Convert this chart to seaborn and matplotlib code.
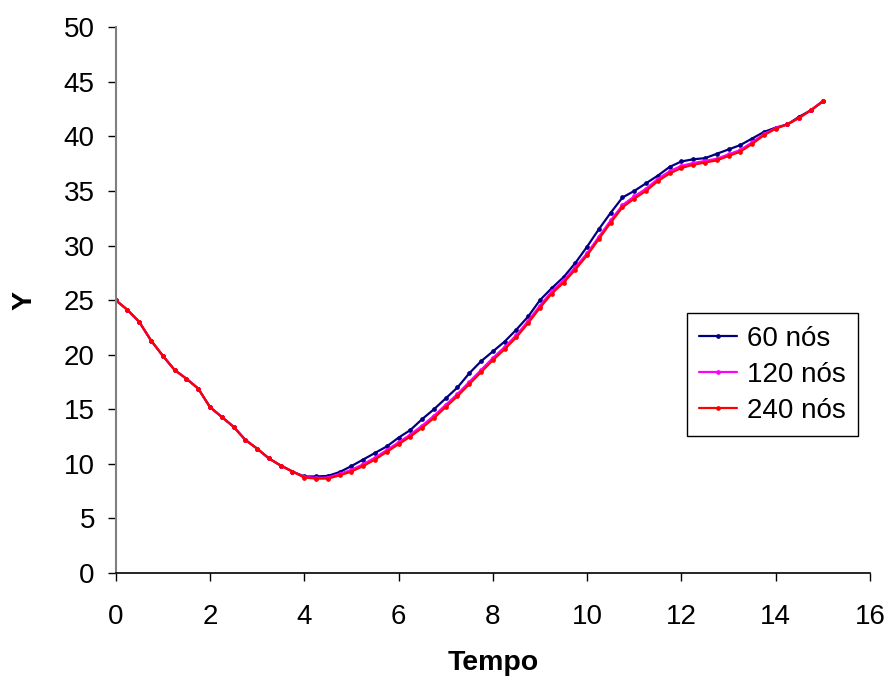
import numpy as np
import pandas as pd
import matplotlib
matplotlib.use("Agg")
import matplotlib.pyplot as plt
import seaborn as sns

tempo = [0.00, 0.25, 0.50, 0.75, 1.00, 1.25, 1.50, 1.75, 2.00, 2.25, 2.50, 2.75,
         3.00, 3.25, 3.50, 3.75, 4.00, 4.25, 4.50, 4.75, 5.00, 5.25, 5.50, 5.75,
         6.00, 6.25, 6.50, 6.75, 7.00, 7.25, 7.50, 7.75, 8.00, 8.25, 8.50, 8.75,
         9.00, 9.25, 9.50, 9.75, 10.00, 10.25, 10.50, 10.75, 11.00, 11.25, 11.50, 11.75,
         12.00, 12.25, 12.50, 12.75, 13.00, 13.25, 13.50, 13.75, 14.00, 14.25, 14.50, 14.75,
         15.00]

y_60 = [25.0, 24.1, 23.0, 21.3, 19.9, 18.6, 17.8, 16.9, 15.2, 14.3, 13.4, 12.2,
        11.4, 10.5, 9.85, 9.3, 8.85, 8.85, 8.9, 9.25, 9.8, 10.4, 11.0, 11.6,
        12.4, 13.1, 14.1, 15.0, 16.0, 17.0, 18.3, 19.4, 20.3, 21.2, 22.3, 23.5,
        25.0, 26.1, 27.1, 28.4, 29.9, 31.5, 33.0, 34.4, 35.0, 35.7, 36.4, 37.2,
        37.7, 37.9, 38.0, 38.4, 38.8, 39.2, 39.8, 40.4, 40.8, 41.1, 41.8, 42.4,
        43.2]

y_120 = [25.0, 24.1, 23.0, 21.3, 19.9, 18.6, 17.8, 16.9, 15.2, 14.3, 13.4, 12.2,
         11.4, 10.5, 9.85, 9.3, 8.8, 8.72, 8.75, 9.08, 9.45, 9.97, 10.57, 11.27,
         11.97, 12.68, 13.5, 14.4, 15.4, 16.4, 17.5, 18.6, 19.7, 20.7, 21.8, 23.1,
         24.5, 25.8, 26.8, 28.0, 29.3, 30.8, 32.3, 33.7, 34.5, 35.2, 36.1, 36.8,
         37.3, 37.55, 37.75, 37.95, 38.35, 38.75, 39.45, 40.2, 40.75, 41.1, 41.7, 42.4,
         43.25]

y_240 = [25.0, 24.1, 23.0, 21.3, 19.9, 18.6, 17.8, 16.9, 15.2, 14.3, 13.4, 12.2,
         11.4, 10.5, 9.85, 9.3, 8.75, 8.65, 8.65, 8.95, 9.3, 9.8, 10.4, 11.1,
         11.8, 12.5, 13.3, 14.2, 15.2, 16.2, 17.3, 18.4, 19.5, 20.5, 21.6, 22.9,
         24.3, 25.6, 26.6, 27.8, 29.1, 30.6, 32.1, 33.5, 34.3, 35.0, 35.9, 36.6,
         37.1, 37.4, 37.6, 37.8, 38.2, 38.6, 39.3, 40.1, 40.7, 41.1, 41.7, 42.4,
         43.2]

series_names = ["60 nós", "120 nós", "240 nós"]
series_colors = ["#000080", "#FF00FF", "#FF0000"]
x_ticks = [0, 2, 4, 6, 8, 10, 12, 14, 16]
y_ticks = [0, 5, 10, 15, 20, 25, 30, 35, 40, 45, 50]

df = pd.concat([
    pd.DataFrame({"Tempo": tempo, "Y": vals, "Série": name})
    for name, vals in zip(series_names, [y_60, y_120, y_240])
], ignore_index=True)

sns.set_theme(style="white")
plt.rcParams["font.family"] = ["Liberation Sans", "DejaVu Sans"]
for k in ["text.color", "axes.labelcolor", "xtick.color", "ytick.color"]:
    plt.rcParams[k] = "black"

fig = plt.figure(figsize=(8.9, 6.79), dpi=100)
ax = fig.add_axes([0.130, 0.156, 0.8475, 0.804])

sns.lineplot(data=df, x="Tempo", y="Y", hue="Série", hue_order=series_names,
             palette=dict(zip(series_names, series_colors)), ax=ax,
             marker="o", markersize=3.4, markeredgewidth=0, linewidth=1.6,
             estimator=None, sort=False)

ax.set_xlim(0, 16)
ax.set_ylim(0, 50)
ax.set_xticks(x_ticks)
ax.set_yticks(y_ticks)
ax.tick_params(axis="both", which="major", direction="out", length=6, width=1,
               color="black", labelsize=20, bottom=True, left=True)
ax.tick_params(axis="x", pad=16)
ax.tick_params(axis="y", pad=9)

for s in ["top", "right"]:
    ax.spines[s].set_visible(False)
ax.spines["left"].set_color("#808080")
ax.spines["left"].set_linewidth(1.5)
ax.spines["bottom"].set_color("black")
ax.spines["bottom"].set_linewidth(1.2)

ax.set_xlabel("Tempo", fontsize=20.5, fontweight="bold", labelpad=15)
ax.set_ylabel("Y", fontsize=20.5, fontweight="bold", labelpad=19)

leg = ax.legend(loc="upper left", bbox_to_anchor=(0.757, 0.476), fontsize=20,
                frameon=True, fancybox=False, shadow=False, handlelength=1.35,
                borderpad=0.45, labelspacing=0.36, handletextpad=0.36,
                borderaxespad=0)
leg.get_frame().set_edgecolor("black")
leg.get_frame().set_linewidth(1.0)
leg.get_frame().set_alpha(1)

fig.savefig("out.png", dpi=100, facecolor="white")
